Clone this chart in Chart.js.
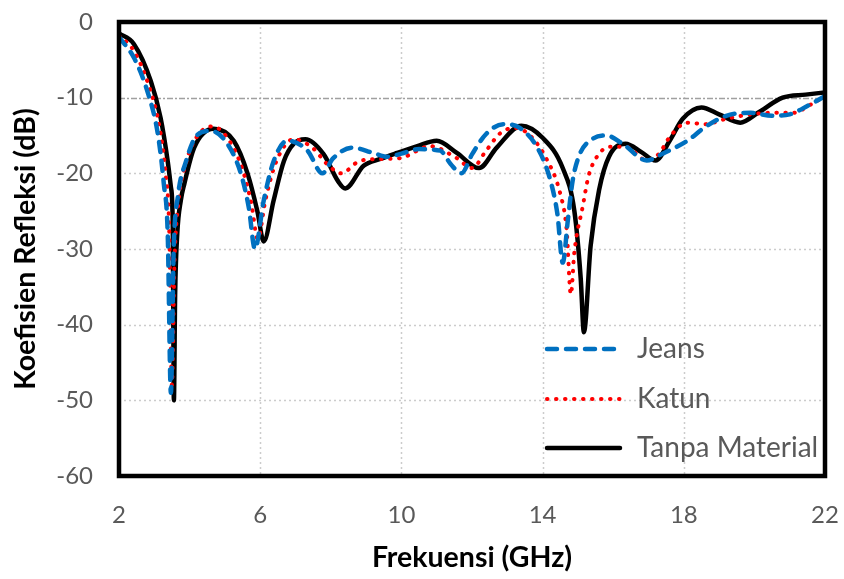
<!DOCTYPE html>
<html><head><meta charset="utf-8">
<script src="https://cdn.jsdelivr.net/npm/chart.js@4.4.0/dist/chart.umd.min.js"></script>
<style>html,body{margin:0;padding:0;background:#fff}#wrap{width:844px;height:579px;position:relative}</style>
</head><body><div id="wrap"><canvas id="c"></canvas></div>
<script>
const seriesLabels = ['Jeans', 'Katun', 'Tanpa Material'];
const xTickLabels = [2, 6, 10, 14, 18, 22];
const yTickLabels = [0, -10, -20, -30, -40, -50, -60];
const xTitle = 'Frekuensi (GHz)';
const yTitle = 'Koefisien Refleksi (dB)';

const jeansFreq = [2.0, 2.42, 2.8, 3.1, 3.27, 3.38, 3.47, 3.55, 3.67, 3.9, 4.2, 4.6, 5.07, 5.45, 5.68, 5.85, 6.1, 6.38, 6.77, 7.34, 7.76, 8.07, 8.6, 9.2, 9.6, 10.0, 10.5, 11.1, 11.4, 11.7, 12.0, 12.4, 12.9, 13.35, 13.85, 14.2, 14.42, 14.57, 14.72, 14.85, 15.05, 15.4, 15.8, 16.27, 16.95, 17.4, 18.1, 18.6, 19.2, 19.9, 20.5, 21.0, 21.5, 22.0];
const jeansDb   = [-2.0, -4.7, -9.1, -14.8, -21.4, -28, -49, -30, -23, -18.4, -15, -14.4, -16.1, -20, -24.6, -30, -23.6, -18.4, -15.7, -17, -20, -18, -16.6, -17.3, -17.8, -17.4, -16.8, -17, -18.8, -20, -17.5, -14.8, -13.5, -14, -16.6, -20.6, -25.4, -31.8, -26, -21, -17.5, -15.5, -15, -16.1, -18.3, -17.4, -15.7, -13.9, -12.4, -12, -12.4, -12.2, -11.1, -9.8];

const katunFreq = [2.0, 2.42, 2.85, 3.14, 3.32, 3.42, 3.5, 3.57, 3.68, 3.9, 4.2, 4.65, 5.1, 5.5, 5.75, 5.93, 6.15, 6.45, 6.95, 7.5, 7.9, 8.3, 8.8, 9.4, 9.97, 10.45, 10.8, 11.57, 12.0, 12.4, 12.8, 13.2, 13.6, 14.1, 14.5, 14.68, 14.8, 14.9, 15.14, 15.3, 15.54, 15.9, 16.35, 16.95, 17.3, 17.6, 18.1, 18.6, 19.2, 19.9, 20.5, 21.1, 21.6, 22.0];
const katunDb   = [-1.8, -3.8, -8.5, -13.7, -20, -27, -48, -32, -24, -18.6, -15.2, -13.8, -15.5, -19.5, -24, -28.7, -23.5, -18.5, -15.5, -16.7, -18.8, -20, -18.4, -18.1, -18, -17, -16.4, -18, -19.3, -17, -14.7, -14, -14.8, -18, -22.7, -27.4, -36, -30.4, -24.3, -20.4, -17.8, -16.5, -16.5, -18.3, -17.4, -15.2, -13.3, -13.5, -12.8, -12.2, -12, -12, -10.9, -9.8];

const tanpaFreq = [2.0, 2.42, 2.9, 3.18, 3.38, 3.47, 3.52, 3.555, 3.59, 3.65, 3.75, 3.85, 4.13, 4.68, 5.25, 5.64, 5.92, 6.1, 6.38, 6.67, 6.95, 7.28, 7.8, 8.2, 8.41, 8.93, 9.4, 9.88, 10.45, 11.0, 11.57, 12.2, 12.7, 13.4, 14.0, 14.57, 14.9, 15.08, 15.17, 15.36, 15.6, 15.88, 16.35, 16.8, 17.2, 17.6, 17.97, 18.5, 19.0, 19.6, 20.1, 20.8, 21.45, 22.0];
const tanpaDb   = [-1.5, -2.9, -7.8, -12.7, -18.4, -21.8, -26, -50, -36, -28, -23.6, -21.4, -16.6, -14.1, -15.7, -20, -25, -29, -23.6, -18.4, -16.1, -15.5, -17.5, -21, -22, -19, -18.1, -17.3, -16.4, -15.7, -17.3, -19.3, -16.6, -13.7, -15.3, -19.3, -25, -33.9, -41, -29.6, -22.2, -17.8, -16.1, -17.2, -18.3, -15.7, -12.8, -11.3, -12.2, -13.3, -12, -10, -9.6, -9.3];

const toPts = (xs, ys) => xs.map((f, i) => ({x: f, y: ys[i]}));

const TICK_FONT = {family: 'Lato', size: 24};
const TITLE_FONT = {family: 'Lato', size: 28.5, weight: 'bold'};

const gridFrameLegend = {
  id: 'gridFrameLegend',
  beforeDatasetsDraw(chart) {
    const {ctx, chartArea: a, scales: {x, y}} = chart;
    ctx.save();
    ctx.lineWidth = 1.5;
    ctx.strokeStyle = '#cccccc';
    ctx.setLineDash([2, 3]);
    xTickLabels.forEach(v => {
      if (v === x.min || v === x.max) return;
      const px = Math.round(x.getPixelForValue(v)) + 0.5;
      ctx.beginPath(); ctx.moveTo(px, a.top); ctx.lineTo(px, a.bottom); ctx.stroke();
    });
    yTickLabels.forEach(v => {
      if (v === y.min || v === y.max || v === -10) return;
      const py = Math.round(y.getPixelForValue(v)) + 0.5;
      ctx.beginPath(); ctx.moveTo(a.left, py); ctx.lineTo(a.right, py); ctx.stroke();
    });
    ctx.strokeStyle = '#a0a0a0';
    ctx.setLineDash([6, 2, 2, 2]);
    const p10 = Math.round(y.getPixelForValue(-10)) + 0.5;
    ctx.beginPath(); ctx.moveTo(a.left, p10); ctx.lineTo(a.right, p10); ctx.stroke();
    ctx.restore();
  },
  afterDatasetsDraw(chart) {
    const {ctx, chartArea: a} = chart;
    ctx.save();
    const rows = [349, 399, 448];
    chart.data.datasets.forEach((ds, i) => {
      const yy = rows[i];
      ctx.save();
      ctx.strokeStyle = ds.borderColor;
      ctx.lineWidth = ds.borderWidth;
      ctx.lineCap = ds.borderCapStyle || 'butt';
      ctx.setLineDash(ds.borderDash || []);
      ctx.beginPath(); ctx.moveTo(547, yy); ctx.lineTo(620, yy); ctx.stroke();
      ctx.restore();
      ctx.fillStyle = '#595959';
      ctx.font = '28px Lato';
      ctx.textBaseline = 'alphabetic';
      ctx.fillText(ds.label, 637, yy + 9);
    });
    ctx.strokeStyle = '#000';
    ctx.lineWidth = 4.5;
    ctx.setLineDash([]);
    ctx.strokeRect(a.left, a.top, a.right - a.left, a.bottom - a.top);
    ctx.restore();
  }
};

new Chart(document.getElementById('c'), {
  type: 'line',
  data: {
    datasets: [
      {label: seriesLabels[0], data: toPts(jeansFreq, jeansDb), borderColor: '#0070C0', borderWidth: 4.5, borderDash: [10, 9], borderCapStyle: 'round', pointRadius: 0, cubicInterpolationMode: 'monotone', fill: false},
      {label: seriesLabels[1], data: toPts(katunFreq, katunDb), borderColor: '#FF0000', borderWidth: 4, borderDash: [0.5, 8.5], borderCapStyle: 'round', pointRadius: 0, cubicInterpolationMode: 'monotone', fill: false},
      {label: seriesLabels[2], data: toPts(tanpaFreq, tanpaDb), borderColor: '#000000', borderWidth: 4.5, borderDash: [], borderCapStyle: 'round', pointRadius: 0, cubicInterpolationMode: 'monotone', fill: false}
    ]
  },
  options: {
    responsive: true,
    maintainAspectRatio: false,
    animation: false,
    events: [],
    layout: {padding: {top: 22, right: 19, bottom: 0, left: 0}},
    plugins: {legend: {display: false}, tooltip: {enabled: false}},
    scales: {
      x: {
        type: 'linear', min: 2, max: 22,
        afterBuildTicks: s => { s.ticks = xTickLabels.map(v => ({value: v})); },
        afterFit: s => { s.height = 103; s.paddingLeft = 0; s.paddingRight = 0; },
        grid: {display: false, drawTicks: false},
        border: {display: false},
        ticks: {color: '#595959', font: TICK_FONT, padding: 25, maxRotation: 0, autoSkip: false},
        title: {display: true, text: xTitle, color: '#000', font: TITLE_FONT, padding: {top: 0, bottom: 4}}
      },
      y: {
        min: -60, max: 0,
        afterBuildTicks: s => { s.ticks = yTickLabels.map(v => ({value: v})); },
        afterFit: s => { s.width = 119; s.paddingTop = 0; s.paddingBottom = 0; },
        grid: {display: false, drawTicks: false},
        border: {display: false},
        ticks: {color: '#595959', font: TICK_FONT, padding: 26, autoSkip: false},
        title: {display: true, text: yTitle, color: '#000', font: TITLE_FONT, padding: {top: 9, bottom: 0}}
      }
    }
  },
  plugins: [gridFrameLegend]
});
</script></body></html>
